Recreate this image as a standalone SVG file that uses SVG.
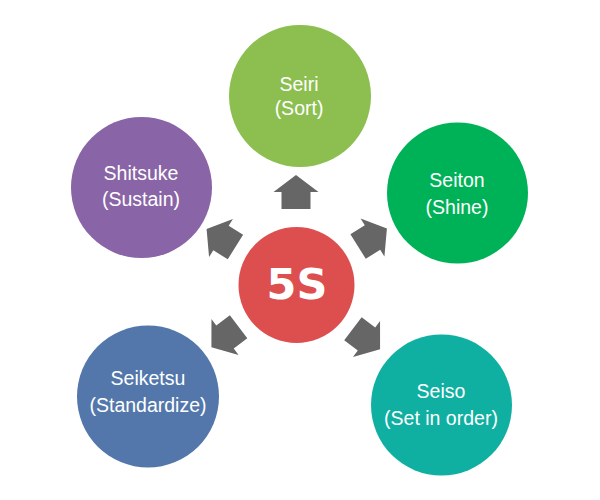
<svg xmlns="http://www.w3.org/2000/svg" xmlns:xlink="http://www.w3.org/1999/xlink" width="600" height="500" viewBox="0 0 600 500">
<style>
.lbl{font-family:"Liberation Sans",Arial,Helvetica,sans-serif;font-size:19.5px;fill:#ffffff;text-anchor:middle}
.big{font-family:"DejaVu Sans",Verdana,sans-serif;font-weight:bold;font-size:43px;fill:#ffffff;text-anchor:middle}
.arr{fill:#666666}
</style>
<defs>
<path id="arrow" d="M0,-17 L22.5,0 L14.5,0 L14.5,17 L-14.5,17 L-14.5,0 L-22.5,0 Z"/>
</defs>
<rect width="600" height="500" fill="#ffffff"/>
<g id="connectors" class="arr">
<use href="#arrow" xlink:href="#arrow" transform="translate(296,192)"/>
<use href="#arrow" xlink:href="#arrow" transform="translate(221,238) rotate(-58)"/>
<use href="#arrow" xlink:href="#arrow" transform="translate(372.5,237.5) rotate(58)"/>
<use href="#arrow" xlink:href="#arrow" transform="translate(225,337) rotate(-127)"/>
<use href="#arrow" xlink:href="#arrow" transform="translate(366.5,339) rotate(127)"/>
</g>
<g id="center">
<circle cx="296.5" cy="285" r="58" fill="#dd4f4f"/>
<text class="big" x="297" y="299">5S</text>
</g>
<g id="seiri">
<circle cx="300" cy="96" r="71" fill="#8cbf50"/>
<text class="lbl" x="299" y="91">Seiri</text>
<text class="lbl" x="299" y="115">(Sort)</text>
</g>
<g id="seiton">
<circle cx="457.5" cy="193" r="70.5" fill="#00b257"/>
<text class="lbl" x="457" y="187">Seiton</text>
<text class="lbl" x="457" y="214">(Shine)</text>
</g>
<g id="seiso">
<circle cx="441.5" cy="405" r="70.5" fill="#0fb0a2"/>
<text class="lbl" x="441" y="398">Seiso</text>
<text class="lbl" x="441" y="425">(Set in order)</text>
</g>
<g id="seiketsu">
<circle cx="148" cy="396.5" r="71" fill="#5377ab"/>
<text class="lbl" x="148" y="385">Seiketsu</text>
<text class="lbl" x="148" y="412">(Standardize)</text>
</g>
<g id="shitsuke">
<circle cx="141.5" cy="187.5" r="70.5" fill="#8964a6"/>
<text class="lbl" x="141" y="180">Shitsuke</text>
<text class="lbl" x="141" y="206">(Sustain)</text>
</g>
</svg>
